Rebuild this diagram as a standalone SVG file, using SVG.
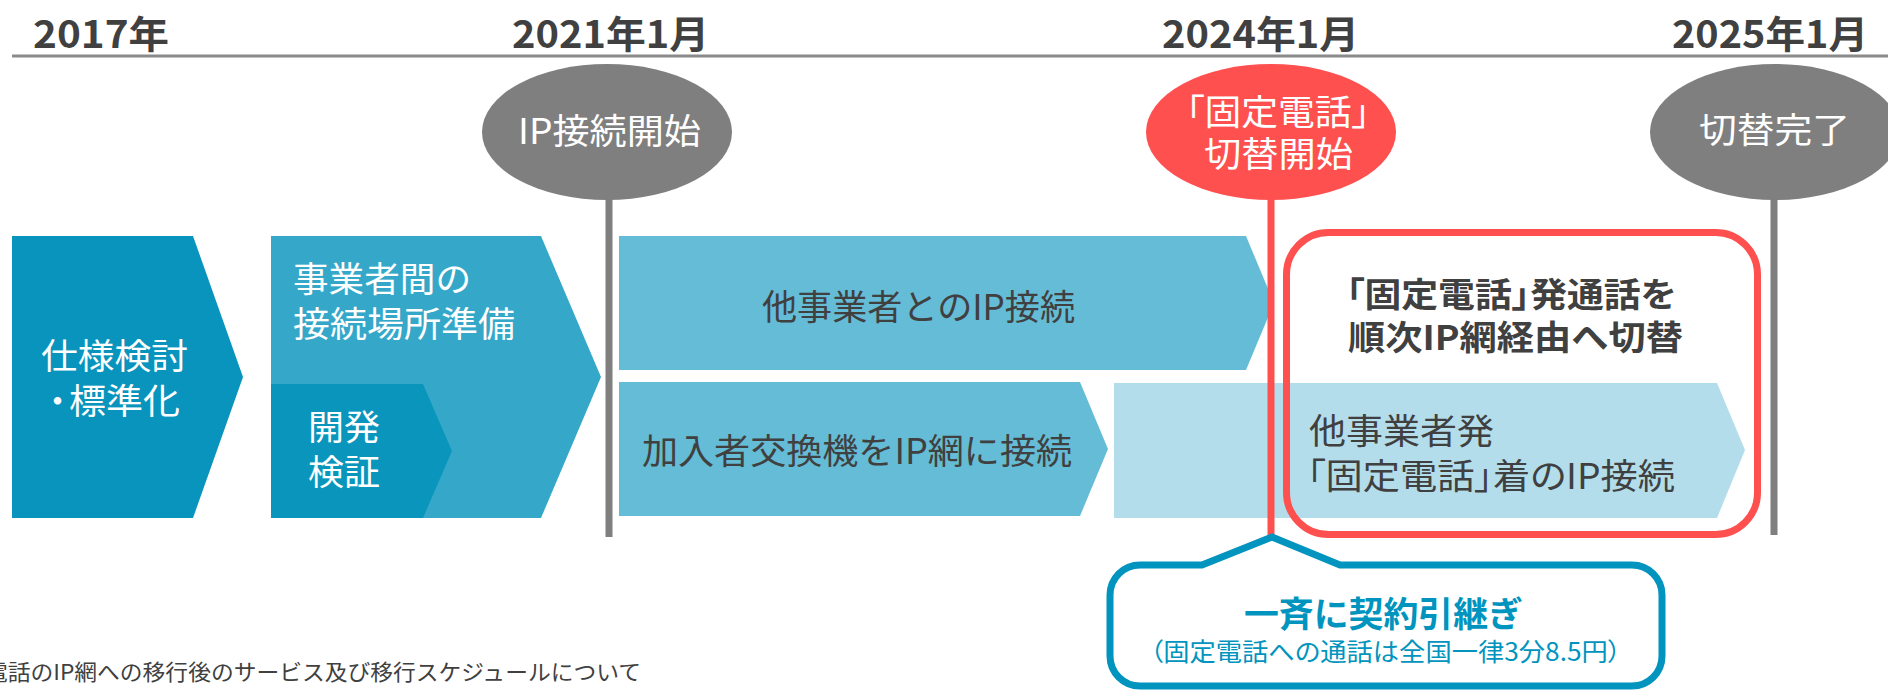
<svg xmlns="http://www.w3.org/2000/svg" width="1888" height="693" viewBox="0 0 1888 693">
<style>
text{font-family:"Noto Sans CJK JP","Noto Sans",sans-serif;}
.p{font-feature-settings:"palt" 1;}
.hdr{font-size:38px;font-weight:700;fill:#404040;}
.wt{font-size:35px;fill:#ffffff;}
.dk{font-size:35px;fill:#404040;}
.bd{font-size:34px;font-weight:700;fill:#404040;}
.tl{fill:#0094BE;}
.gline{stroke:#7F7F7F;stroke-width:7;fill:none;}
.rline{stroke:#FF5050;stroke-width:7;fill:none;}
</style>
<rect width="1888" height="693" fill="#ffffff"/>

<g id="header">
<line x1="12" y1="56" x2="1888" y2="56" stroke="#8A8A8A" stroke-width="3"/>
<text class="hdr" x="33" y="48" textLength="136" lengthAdjust="spacingAndGlyphs">2017年</text>
<text class="hdr" x="512" y="48" textLength="197" lengthAdjust="spacingAndGlyphs">2021年1月</text>
<text class="hdr" x="1162" y="48" textLength="197" lengthAdjust="spacingAndGlyphs">2024年1月</text>
<text class="hdr" x="1672" y="48" textLength="196" lengthAdjust="spacingAndGlyphs">2025年1月</text>
</g>

<g id="box1">
<polygon points="12,236 193,236 243,377 193,518 12,518" fill="#0894BC"/>
<text class="wt" x="41" y="369" textLength="147" lengthAdjust="spacingAndGlyphs">仕様検討</text>
<text class="wt" x="40" y="414">・</text>
<text class="wt" x="69" y="414" textLength="111" lengthAdjust="spacingAndGlyphs">標準化</text>
</g>

<g id="box2">
<polygon points="271,236 541,236 601,377 541,518 271,518" fill="#35A8C9"/>
<text class="wt" x="293" y="292" textLength="178" lengthAdjust="spacingAndGlyphs">事業者間の</text>
<text class="wt" x="293" y="337" textLength="222" lengthAdjust="spacingAndGlyphs">接続場所準備</text>
</g>

<g id="box3">
<polygon points="271,384 423,384 452,451 423,518 271,518" fill="#0A96BC"/>
<text class="wt" x="308" y="440" textLength="72" lengthAdjust="spacingAndGlyphs">開発</text>
<text class="wt" x="308" y="485" textLength="72" lengthAdjust="spacingAndGlyphs">検証</text>
</g>

<g id="box4">
<polygon points="619,236 1246,236 1274,303 1246,370 619,370" fill="#65BCD6"/>
<text class="dk" x="762" y="320" textLength="313" lengthAdjust="spacingAndGlyphs">他事業者とのIP接続</text>
</g>

<g id="box5">
<polygon points="619,382 1080,382 1108,449 1080,516 619,516" fill="#65BCD6"/>
<text class="dk" x="642" y="464" textLength="430" lengthAdjust="spacingAndGlyphs">加入者交換機をIP網に接続</text>
</g>

<g id="box6">
<polygon points="1114,383 1717,383 1745,450 1717,518 1114,518" fill="#B3DDEA"/>
<text class="dk" x="1309" y="444" textLength="185" lengthAdjust="spacingAndGlyphs">他事業者発</text>
<text class="dk p" x="1307" y="489" textLength="368" lengthAdjust="spacingAndGlyphs">「固定電話」着のIP接続</text>
</g>

<g id="connectors">
<line class="gline" x1="609" y1="195" x2="609" y2="537"/>
<line class="rline" x1="1271" y1="195" x2="1271" y2="545"/>
<line class="gline" x1="1774" y1="195" x2="1774" y2="535"/>
</g>

<g id="switch-box">
<rect x="1286.5" y="232.5" width="471" height="302" rx="42" ry="42" fill="none" stroke="#FF5050" stroke-width="7"/>
<text class="bd p" x="1346" y="307" textLength="330" lengthAdjust="spacingAndGlyphs">「固定電話」発通話を</text>
<text class="bd" x="1348" y="350" textLength="335" lengthAdjust="spacingAndGlyphs">順次IP網経由へ切替</text>
</g>

<g id="m-ip-start">
<ellipse cx="607" cy="132" rx="125" ry="68" fill="#7F7F7F"/>
<text class="wt" x="518" y="144" textLength="183" lengthAdjust="spacingAndGlyphs">IP接続開始</text>
</g>

<g id="m-switch-start">
<ellipse cx="1271" cy="132" rx="125" ry="68" fill="#FF5050"/>
<text class="wt p" x="1186" y="125" textLength="184" lengthAdjust="spacingAndGlyphs">「固定電話」</text>
<text class="wt" x="1204" y="167" textLength="149" lengthAdjust="spacingAndGlyphs">切替開始</text>
</g>

<g id="m-complete">
<ellipse cx="1775" cy="132" rx="125" ry="68" fill="#7F7F7F"/>
<text class="wt" x="1699" y="143" textLength="151" lengthAdjust="spacingAndGlyphs">切替完了</text>
</g>

<g id="callout">
<path d="M1140,565 L1202,565 L1272,537 L1340,565 L1632,565 A30,30 0 0 1 1662,595 L1662,656 A30,30 0 0 1 1632,686 L1140,686 A30,30 0 0 1 1110,656 L1110,595 A30,30 0 0 1 1140,565 Z" fill="#ffffff" stroke="#0094BE" stroke-width="7" stroke-linejoin="miter"/>
<text class="tl" x="1244" y="627" font-size="35" font-weight="700" textLength="279" lengthAdjust="spacingAndGlyphs">一斉に契約引継ぎ</text>
<text class="tl p" x="1150" y="661" font-size="25" textLength="471" lengthAdjust="spacingAndGlyphs">（固定電話への通話は全国一律3分8.5円）</text>
</g>

<g id="footer">
<text x="-15" y="680" font-size="22" fill="#404040" textLength="656" lengthAdjust="spacingAndGlyphs">電話のIP網への移行後のサービス及び移行スケジュールについて</text>
</g>
</svg>
